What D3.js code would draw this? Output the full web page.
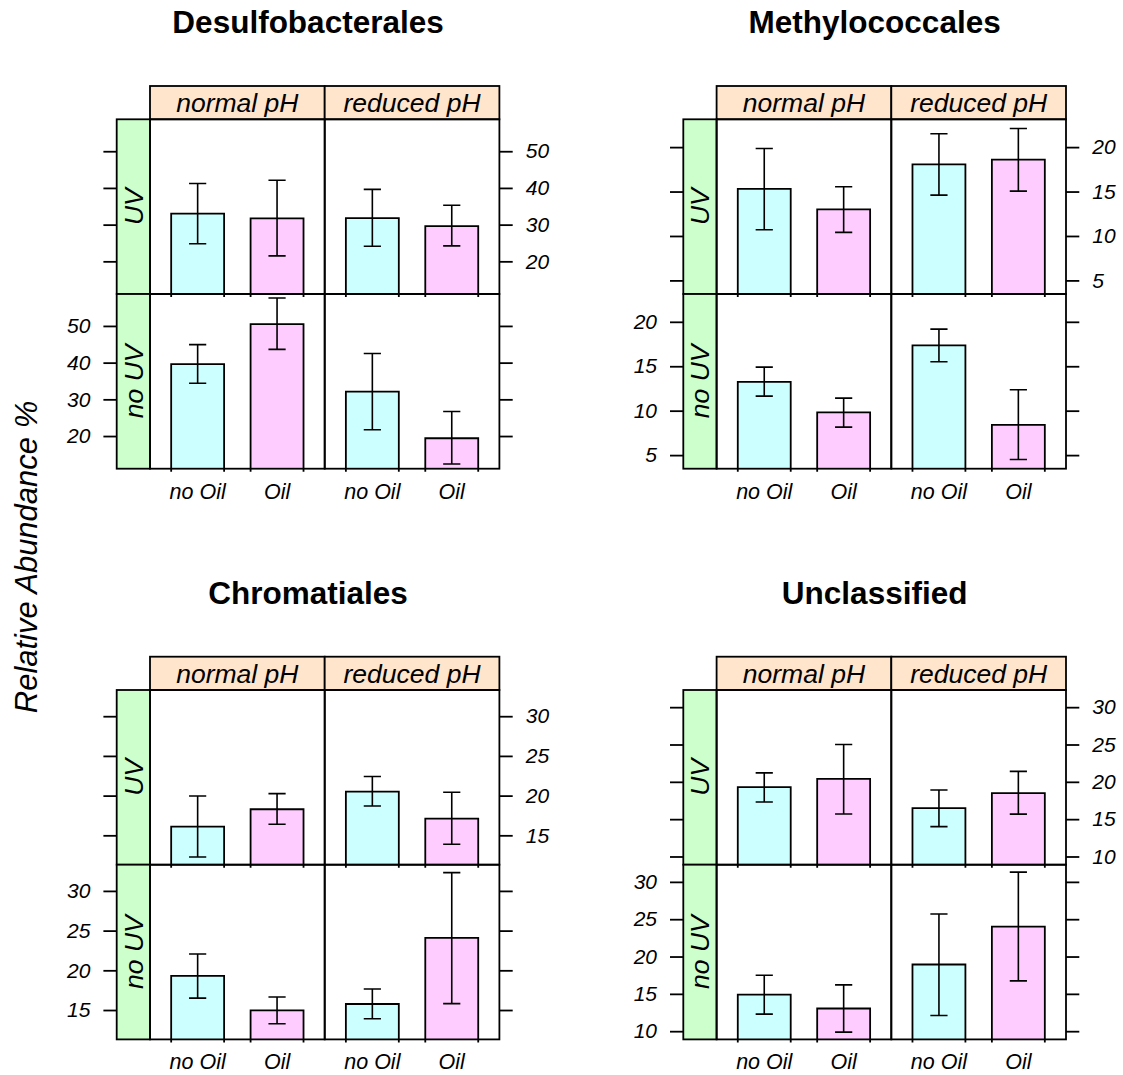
<!DOCTYPE html>
<html>
<head>
<meta charset="utf-8">
<script src="https://cdn.jsdelivr.net/npm/d3@7"></script>
<style>
  body { margin: 0; background: #fff; }
  text { font-family: "Liberation Sans", Arial, sans-serif; }
</style>
</head>
<body>
<svg id="chart"></svg>
<script>
// factor levels
var orders = ["Desulfobacterales", "Methylococcales", "Chromatiales", "Unclassified"];
var phLevels = ["normal pH", "reduced pH"];
var uvLevels = ["UV", "no UV"];
var oilLevels = ["no Oil", "Oil"];

// values per order, ordered: UV/normal (no Oil, Oil), UV/reduced (no Oil, Oil), no UV/normal, no UV/reduced
var desulfoMean = [33.0, 31.7, 31.8, 29.6, 39.6, 50.5, 32.1, 19.4];
var desulfoLo   = [24.8, 21.5, 24.1, 24.2, 34.4, 43.6, 21.7, 12.4];
var desulfoHi   = [41.2, 42.1, 39.6, 35.3, 44.9, 57.6, 42.5, 26.7];

var methyloMean = [15.3, 13.0, 18.05, 18.6, 13.25, 9.8, 17.34, 8.41];
var methyloLo   = [10.7, 10.4, 14.6, 15.05, 11.64, 8.15, 15.5, 4.51];
var methyloHi   = [19.85, 15.54, 21.5, 22.1, 14.9, 11.41, 19.18, 12.35];

var chromaMean = [16.1, 18.28, 20.5, 17.1, 19.29, 14.96, 15.76, 24.08];
var chromaLo   = [12.27, 16.39, 18.7, 13.87, 16.5, 13.28, 13.9, 15.8];
var chromaHi   = [19.96, 20.25, 22.4, 20.42, 22.06, 16.64, 17.65, 32.3];

var unclMean = [19.29, 20.4, 16.47, 18.5, 14.9, 13.04, 18.93, 24.0];
var unclLo   = [17.3, 15.7, 14.0, 15.67, 12.28, 9.87, 12.1, 16.74];
var unclHi   = [21.2, 25.0, 18.9, 21.4, 17.5, 16.2, 25.7, 31.3];

// y axis limits and tick values per order
var yLimits = [[11.1, 58.7], [3.47, 23.13], [11.3, 33.3], [8.9, 32.3]];
var yTicks = [[20, 30, 40, 50], [5, 10, 15, 20], [15, 20, 25, 30], [10, 15, 20, 25, 30]];

var series = [
	{ mean: desulfoMean, lo: desulfoLo, hi: desulfoHi },
	{ mean: methyloMean, lo: methyloLo, hi: methyloHi },
	{ mean: chromaMean, lo: chromaLo, hi: chromaHi },
	{ mean: unclMean, lo: unclLo, hi: unclHi }
];

var W = 1123, H = 1075;
var cell = 174.7, stripH = 33.3, tickLen = 13.3;
var origins = [[116.7, 86], [683.3, 86], [116.7, 656.7], [683.3, 656.7]];
var barCols = ["#ccffff", "#ffccff"];
var lw = 1.8, elw = 1.6;

var svg = d3.select("#chart").attr("width", W).attr("height", H);

//y axis title
svg.append("text")
	.attr("transform", "translate(37,557) rotate(-90)")
	.attr("text-anchor", "middle")
	.style("font-size", "31px").style("font-style", "italic")
	.text("Relative Abundance %");

orders.forEach(function(name, k) {
	var ox = origins[k][0], oy = origins[k][1];
	var pLeft = ox + stripH, pTop = oy + stripH;
	var pRight = pLeft + 2 * cell, pBottom = pTop + 2 * cell;
	var d = series[k];
	var g = svg.append("g");

	//title
	g.append("text")
		.attr("x", (ox + pRight) / 2).attr("y", oy - 53)
		.attr("text-anchor", "middle")
		.style("font-size", "31.5px").style("font-weight", "bold")
		.text(name);

	//top strips
	phLevels.forEach(function(ph, j) {
		g.append("rect").attr("x", pLeft + j * cell).attr("y", oy)
			.attr("width", cell).attr("height", stripH)
			.attr("fill", "#ffe5cc").attr("stroke", "#000").attr("stroke-width", lw);
		g.append("text").attr("x", pLeft + j * cell + cell / 2).attr("y", oy + stripH / 2)
			.attr("dy", "0.35em").attr("text-anchor", "middle")
			.style("font-size", "26.5px").style("font-style", "italic")
			.text(ph);
	});

	//left strips
	uvLevels.forEach(function(uv, i) {
		var cy = pTop + i * cell + cell / 2;
		g.append("rect").attr("x", ox).attr("y", pTop + i * cell)
			.attr("width", stripH).attr("height", cell)
			.attr("fill", "#ccffcc").attr("stroke", "#000").attr("stroke-width", lw);
		g.append("text")
			.attr("transform", "translate(" + (ox + stripH / 2) + "," + cy + ") rotate(-90)")
			.attr("dy", "0.35em").attr("text-anchor", "middle")
			.style("font-size", "26.5px").style("font-style", "italic")
			.text(uv);
	});

	uvLevels.forEach(function(uv, i) {
		var rTop = pTop + i * cell, rBottom = rTop + cell;
		var y = d3.scaleLinear().domain(yLimits[k]).range([rBottom, rTop]);

		//axes: labels on the right for the top row, on the left for the bottom row
		var left = g.append("g").attr("transform", "translate(" + ox + ",0)")
			.call(d3.axisLeft(y).tickValues(yTicks[k]).tickSize(tickLen).tickPadding(13)
				.tickFormat(i === 1 ? d3.format("d") : function() { return ""; }));
		var right = g.append("g").attr("transform", "translate(" + pRight + ",0)")
			.call(d3.axisRight(y).tickValues(yTicks[k]).tickSize(tickLen).tickPadding(13)
				.tickFormat(i === 0 ? d3.format("d") : function() { return ""; }));
		[left, right].forEach(function(ax) {
			ax.select(".domain").remove();
			ax.selectAll(".tick line").attr("stroke", "#000").attr("stroke-width", lw);
			ax.selectAll(".tick text").attr("fill", "#000")
				.style("font-family", "'Liberation Sans', Arial, sans-serif")
				.style("font-size", "21px").style("font-style", "italic");
		});

		phLevels.forEach(function(ph, j) {
			var cLeft = pLeft + j * cell;
			var x = d3.scaleLinear().domain([0.4, 2.6]).range([cLeft, cLeft + cell]);
			var bw = x(2 / 3) - x(0);
			oilLevels.forEach(function(oil, m) {
				var idx = i * 4 + j * 2 + m;
				var cx = x(m + 1), top = y(d.mean[idx]);
				g.append("rect").attr("x", cx - bw / 2).attr("y", top)
					.attr("width", bw).attr("height", rBottom - top)
					.attr("fill", barCols[m]);
				g.append("path")
					.attr("d", "M" + (cx - bw / 2) + "," + (rBottom + 3) + "V" + top + "H" + (cx + bw / 2) + "V" + (rBottom + 3))
					.attr("fill", "none").attr("stroke", "#000").attr("stroke-width", lw);
				//error bar
				var yl = y(d.lo[idx]), yh = y(d.hi[idx]);
				g.append("path")
					.attr("d", "M" + cx + "," + yl + "V" + yh +
						"M" + (cx - 8.6) + "," + yh + "H" + (cx + 8.6) +
						"M" + (cx - 8.6) + "," + yl + "H" + (cx + 8.6))
					.attr("fill", "none").attr("stroke", "#000").attr("stroke-width", elw);
				//x labels
				if (i === 1)
					g.append("text").attr("x", cx).attr("y", pBottom + 30)
						.attr("text-anchor", "middle")
						.style("font-size", "21.5px").style("font-style", "italic")
						.text(oil);
			});
			g.append("rect").attr("x", cLeft).attr("y", rTop).attr("width", cell).attr("height", cell)
				.attr("fill", "none").attr("stroke", "#000").attr("stroke-width", lw);
		});
	});
});
</script>
</body>
</html>
